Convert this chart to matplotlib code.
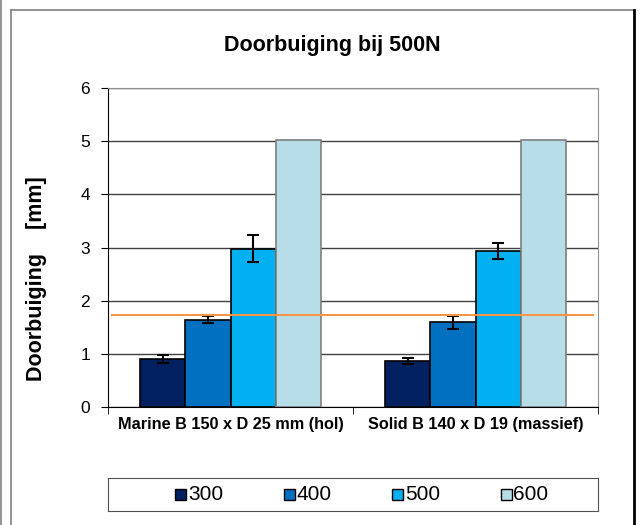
import numpy as np
import matplotlib.pyplot as plt
from matplotlib.patches import Rectangle
from matplotlib.lines import Line2D

plt.rcParams['font.family'] = ['Liberation Sans', 'DejaVu Sans']

categories = ["Marine B 150 x D 25 mm (hol)", "Solid B 140 x D 19 (massief)"]
series = ["300", "400", "500", "600"]
values = [
    [0.91, 0.87],   # 300
    [1.645, 1.59],  # 400
    [2.98, 2.93],   # 500
    [5.02, 5.02],   # 600
]
errors = [
    [0.075, 0.06],
    [0.06, 0.125],
    [0.25, 0.155],
    None,
]
limit = 1.725  # orange line
colors = ["#002060", "#0070C0", "#00B0F0", "#B7DEE8"]
edges = ["black", "black", "black", "#7f7f7f"]

fig = plt.figure(figsize=(6.4, 5.25), dpi=100)
ax = fig.add_axes([108/640, 1-407/525, 490/640, 319/525])

x = np.arange(len(categories))
w = 0.1837
for i, s in enumerate(series):
    pos = x + (i - 1.5) * w
    ax.bar(pos, values[i], w, color=colors[i], edgecolor=edges[i], linewidth=1.2,
           label=s, zorder=3)
    if errors[i] is not None:
        ax.errorbar(pos, values[i], yerr=errors[i], fmt='none', ecolor='black',
                    elinewidth=1.5, capsize=4, capthick=1.5, zorder=4)

ax.plot([-0.485, 1.48], [limit, limit], color="#F79646", linewidth=1.5, zorder=5)

ax.set_xlim(-0.5, 1.5)
ax.set_ylim(0, 6)
ax.set_yticks(range(7))
ax.yaxis.grid(True, color="#404040", linewidth=1)
ax.set_axisbelow(True)
for sp in ["top", "right"]:
    ax.spines[sp].set_color("#909090")
ax.spines["left"].set_color("black")
ax.spines["bottom"].set_color("black")
ax.tick_params(axis='y', labelsize=12.5, length=5, direction='out', pad=8)
ax.set_xticks(x)
ax.set_xticklabels(categories, fontsize=11.7, fontweight='bold')
ax.tick_params(axis='x', length=0, pad=7)
ax.set_xticks([-0.5, 0.5, 1.5], minor=True)
ax.tick_params(axis='x', which='minor', length=5)

fig.text(332/640, 1-45/525, "Doorbuiging bij 500N", ha='center', va='center',
         fontsize=15.5, fontweight='bold')
fig.text(37/640, 1-279/525, "Doorbuiging    [mm]", rotation=90, ha='center',
         va='center', fontsize=15.5, fontweight='bold')

# legend box
lax = fig.add_axes([108/640, 1-511/525, 490/640, 33/525])
lax.set_xlim(0, 490)
lax.set_ylim(0, 33)
lax.set_xticks([])
lax.set_yticks([])
for sp in lax.spines.values():
    sp.set_color("#505050")
for i, s in enumerate(series):
    x0 = 67 + i * 108.5
    lax.add_patch(Rectangle((x0, 11), 11, 11, facecolor=colors[i],
                            edgecolor="black", linewidth=1))
    lax.text(x0 + 13, 16.5, s, va='center', ha='left', fontsize=15)

# chart outer border
fig.add_artist(Line2D([11/640, 11/640], [0, 1-10/525], color="#808080", lw=1.2))
fig.add_artist(Line2D([11/640, 634/640], [1-10/525, 1-10/525], color="#808080", lw=1.2))
fig.add_artist(Line2D([634/640, 634/640], [0, 1-10/525], color="black", lw=2))
fig.add_artist(Line2D([1/640, 1/640], [0, 1], color="#808080", lw=1.2))

fig.savefig("out.png", dpi=100)
